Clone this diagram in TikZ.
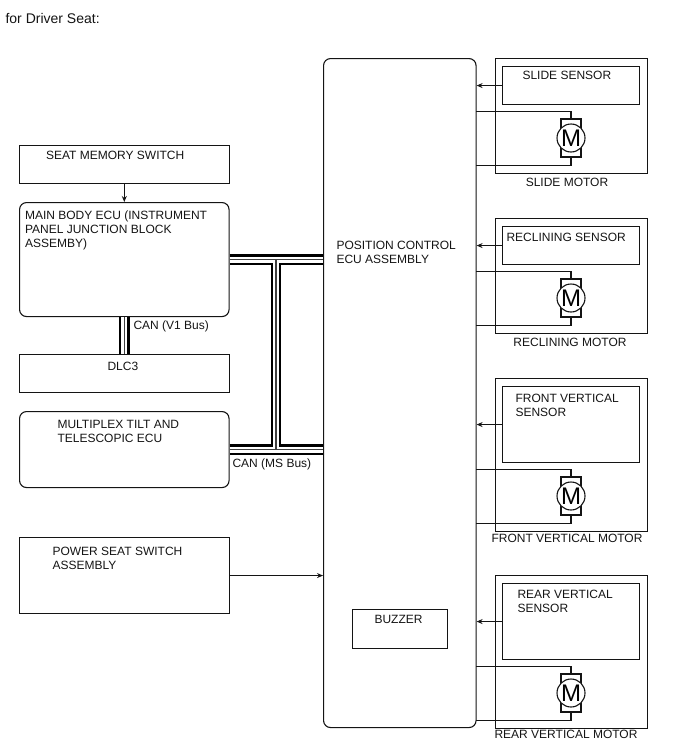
\documentclass[tikz,border=0pt]{standalone}
\usepackage{fontspec}
\setmainfont{Liberation Sans}
\usetikzlibrary{arrows.meta, positioning}
\definecolor{cline}{HTML}{141414}
\tikzset{
  every picture/.style={font=\fontsize{12}{14}\selectfont, line width=1.1pt},
  box/.style={draw=cline, anchor=north west, inner sep=0pt},
  roundbox/.style={box, rounded corners=7pt},
  txt/.style={anchor=north west, inner sep=0pt, align=left, text=cline},
  motorname/.style={anchor=center, inner sep=0pt, text=cline},
  wire/.style={draw=cline},
  arrow/.style={-{Stealth[length=6pt, width=5pt]}, draw=cline},
  bus/.style={draw=black, line width=10.4pt, postaction={draw=white, line width=6pt}, postaction={draw=black!75, line width=1.6pt}},
  motorbody/.style={draw=cline, fill=white, minimum width=20pt, minimum height=38pt, inner sep=0pt},
  motorcoil/.style={draw=cline, fill=white, circle, minimum size=28pt, inner sep=0pt, font=\fontsize{24}{24}\selectfont},
}
\begin{document}
\begin{tikzpicture}[x=1pt, y=-1pt]
  \useasboundingbox (0,0) rectangle (688,755);
  \node[txt, font=\fontsize{14}{16}\selectfont] (title) at (5,13) {for Driver Seat:};
  % left column
  \node[box, minimum width=209.5pt, minimum height=38pt] (memory) at (19,145) {};
  \node[txt] (memorytxt) at (45.5,151) {SEAT MEMORY SWITCH};
  \node[roundbox, minimum width=209.5pt, minimum height=114pt] (main) at (19,202) {};
  \node[txt] (maintxt) at (24.5,210) {MAIN BODY ECU (INSTRUMENT\\PANEL JUNCTION BLOCK\\ASSEMBY)};
  \node[box, minimum width=209.5pt, minimum height=38pt] (dlc) at (19,354) {};
  \node[txt] (dlctxt) at (107,362) {DLC3};
  \node[roundbox, minimum width=209.5pt, minimum height=76pt] (tilt) at (19,411) {};
  \node[txt] (tilttxt) at (57,420) {MULTIPLEX TILT AND\\TELESCOPIC ECU};
  \node[box, minimum width=209.5pt, minimum height=76pt] (power) at (19,537) {};
  \node[txt] (powertxt) at (52,547) {POWER SEAT SWITCH\\ASSEMBLY};
  % position control ecu
  \node[roundbox, minimum width=152.5pt, minimum height=669pt] (ecu) at (323,58) {};
  \node[txt] (ecutxt) at (336,241) {POSITION CONTROL\\ECU ASSEMBLY};
  \node[box, minimum width=95pt, minimum height=39pt] (buzzer) at (352,609) {};
  \node[txt] (buzzertxt) at (374,615) {BUZZER};
  % bus lines
  \coordinate (jtop) at (276,259.5);
  \coordinate (jbot) at (276,449.5);
  \draw[bus] (main.east) -- (main.east -| ecu.west) (tilt.east) -- (tilt.east -| ecu.west) (jtop) -- (jbot);
  \draw[bus] (main.south) -- (dlc.north);
  \node[txt] (v1) at (133,320) {CAN (V1 Bus)};
  \node[txt] (ms) at (232,458) {CAN (MS Bus)};
  \draw[arrow] (memory) -- (main);
  \draw[arrow] (power.east) -- (power.east -| ecu.west);
  % slide
  \node[box, minimum width=152pt, minimum height=115pt] (slide) at (495,58) {};
  \node[box, minimum width=137pt, minimum height=38pt] (slidesens) at (502,66) {};
  \node[txt] (slidetxt) at (522,71) {SLIDE SENSOR};
  \node[motorname] (slidecap) at (567,182) {SLIDE MOTOR};
  \node[motorbody] (slidebody) at (571,138) {};
  \node[motorcoil] (slidecoil) at (571,138) {M};
  \coordinate (slidea) at (476,111.5);
  \coordinate (slideb) at (476,165.5);
  \draw[arrow] (slidesens.west) -- (slidesens.west -| ecu.east);
  \draw[wire] (slidea) -| (slidebody.north);
  \draw[wire] (slideb) -| (slidebody.south);
  % reclining
  \node[box, minimum width=152pt, minimum height=115pt] (recl) at (495,218) {};
  \node[box, minimum width=137pt, minimum height=38pt] (reclsens) at (502,226) {};
  \node[txt] (recltxt) at (506,233) {RECLINING SENSOR};
  \node[motorname] (reclcap) at (570,342.5) {RECLINING MOTOR};
  \node[motorbody] (reclbody) at (571,298) {};
  \node[motorcoil] (reclcoil) at (571,298) {M};
  \coordinate (recla) at (476,271.5);
  \coordinate (reclb) at (476,325.5);
  \draw[arrow] (reclsens.west) -- (reclsens.west -| ecu.east);
  \draw[wire] (recla) -| (reclbody.north);
  \draw[wire] (reclb) -| (reclbody.south);
  % front vertical
  \node[box, minimum width=152pt, minimum height=153pt] (front) at (495,378) {};
  \node[box, minimum width=137pt, minimum height=76pt] (frontsens) at (502,386) {};
  \node[txt] (fronttxt) at (515,394) {FRONT VERTICAL\\SENSOR};
  \node[motorname] (frontcap) at (567,538.5) {FRONT VERTICAL MOTOR};
  \node[motorbody] (frontbody) at (571,496) {};
  \node[motorcoil] (frontcoil) at (571,496) {M};
  \coordinate (fronta) at (476,469.5);
  \coordinate (frontb) at (476,523.5);
  \draw[arrow] (frontsens.west) -- (frontsens.west -| ecu.east);
  \draw[wire] (fronta) -| (frontbody.north);
  \draw[wire] (frontb) -| (frontbody.south);
  % rear vertical
  \node[box, minimum width=152pt, minimum height=153pt] (rear) at (495,575) {};
  \node[box, minimum width=137pt, minimum height=76pt] (rearsens) at (502,583) {};
  \node[txt] (reartxt) at (517,590) {REAR VERTICAL\\SENSOR};
  \node[motorname] (rearcap) at (566,734.5) {REAR VERTICAL MOTOR};
  \node[motorbody] (rearbody) at (571,693) {};
  \node[motorcoil] (rearcoil) at (571,693) {M};
  \coordinate (reara) at (476,666.5);
  \coordinate (rearb) at (476,720.5);
  \draw[arrow] (rearsens.west) -- (rearsens.west -| ecu.east);
  \draw[wire] (reara) -| (rearbody.north);
  \draw[wire] (rearb) -| (rearbody.south);
\end{tikzpicture}
\end{document}
